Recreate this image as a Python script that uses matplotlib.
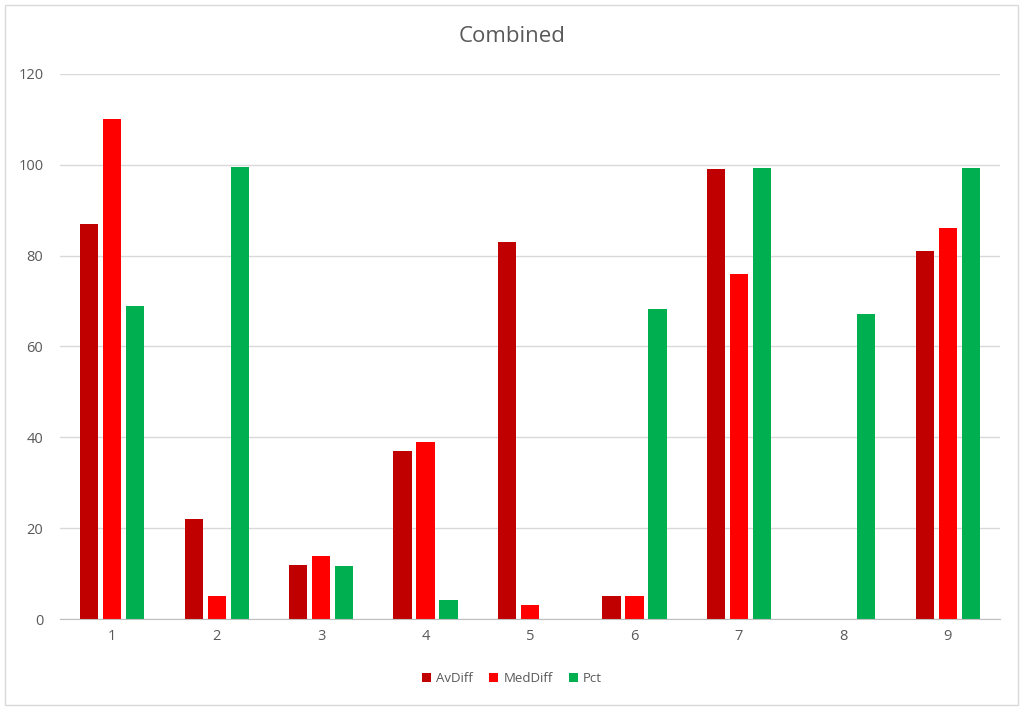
import numpy as np
import matplotlib.pyplot as plt
from matplotlib.patches import Rectangle

categories = ['1', '2', '3', '4', '5', '6', '7', '8', '9']
av_diff = [87, 22, 12, 37, 83, 5, 99, 0, 81]
med_diff = [110, 5, 14, 39, 3, 5, 76, 0, 86]
pct = [69, 99.5, 11.6, 4.2, 0, 68.3, 99.3, 67.2, 99.3]

plt.rcParams['font.family'] = ['Open Sans', 'DejaVu Sans']

fig = plt.figure(figsize=(10.24, 7.10), dpi=100)
ax = fig.add_axes([0.0586, 0.128, 0.918, 0.768])

x = np.arange(1, len(categories) + 1)
w = 0.175
step = 0.22
ax.bar(x - step, av_diff, w, color='#C00000', label='AvDiff')
ax.bar(x, med_diff, w, color='#FF0000', label='MedDiff')
ax.bar(x + step, pct, w, color='#00B050', label='Pct')

ax.set_xlim(0.5, 9.5)
ax.set_ylim(0, 120)
ax.set_yticks(range(0, 121, 20))
ax.set_xticks(x)
ax.set_xticklabels(categories)
ax.yaxis.grid(True, color='#D9D9D9', linewidth=1)
ax.set_axisbelow(True)
for s in ['top', 'right', 'left']:
    ax.spines[s].set_visible(False)
ax.spines['bottom'].set_color('#BFBFBF')
ax.tick_params(axis='both', length=0, colors='#595959', labelsize=10.5)
ax.tick_params(axis='y', pad=12)
ax.tick_params(axis='x', pad=7)

fig.text(0.5, 0.948, 'Combined', ha='center', va='center', fontsize=16, color='#595959')

fig.legend(loc='center', bbox_to_anchor=(0.5, 0.044), ncol=3, frameon=False,
           fontsize=9.5, labelcolor='#595959', handlelength=0.7, handleheight=0.7,
           handletextpad=0.4, columnspacing=1.2)

fig.patches.append(Rectangle((0.005, 0.007), 0.989, 0.986, transform=fig.transFigure,
                             fill=False, edgecolor='#D9D9D9', linewidth=1))

fig.savefig('out.png', dpi=100)
